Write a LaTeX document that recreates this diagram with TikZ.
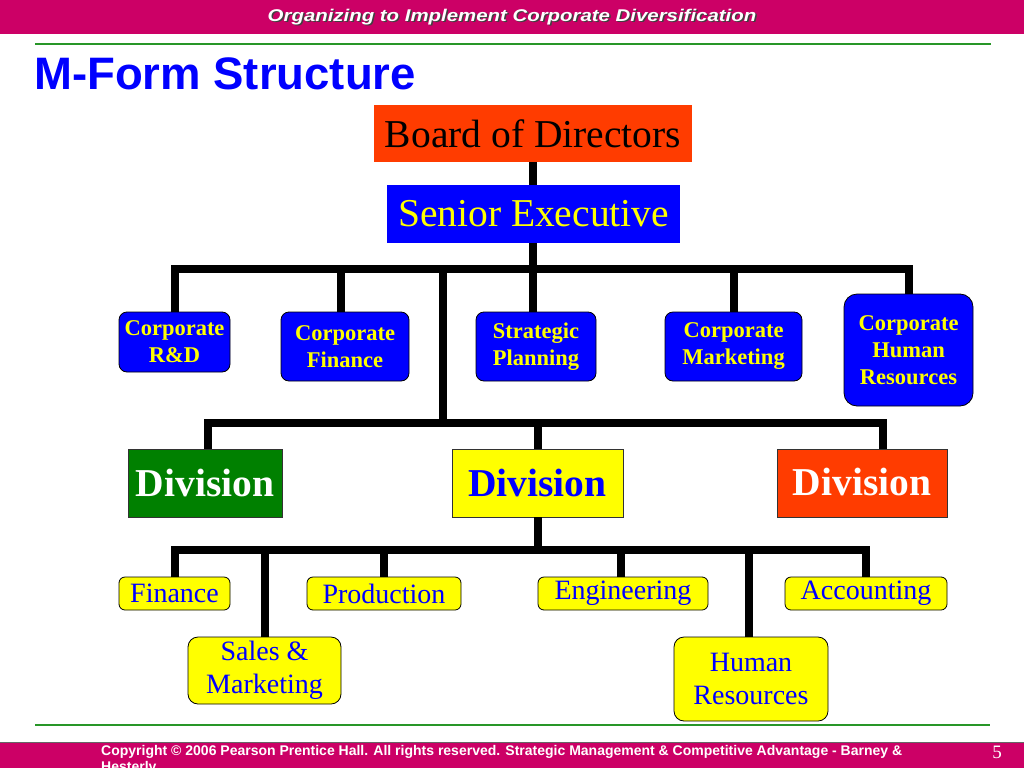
\documentclass[tikz,border=0pt]{standalone}
\usepackage{fontspec}
\setmainfont{Liberation Serif}
\newfontfamily\arial{Liberation Sans}
\definecolor{mag}{RGB}{204,0,102}
\definecolor{lgreen}{RGB}{40,150,40}
\definecolor{tblue}{RGB}{0,0,255}
\definecolor{byellow}{RGB}{255,255,0}
\definecolor{dgreen}{RGB}{0,128,0}
\definecolor{ored}{RGB}{255,60,0}
\begin{document}
\begin{tikzpicture}[x=1pt,y=-1pt,
  conn/.style={line width=8pt, line join=miter, line cap=butt},
  topbox/.style={inner sep=0pt, font=\fontsize{39.5}{44}\selectfont},
  corp/.style={draw=black, line width=0.8pt, fill=tblue, rounded corners=8pt, text=byellow,
    font=\bfseries\fontsize{22.5}{27}\selectfont, align=center, inner sep=0pt},
  divbox/.style={draw=black!80, line width=0.8pt, inner sep=0pt, font=\bfseries\fontsize{39.5}{44}\selectfont},
  unit/.style={draw=black, line width=0.8pt, fill=byellow, rounded corners=6pt, text=tblue,
    font=\fontsize{28}{33.5}\selectfont, align=center, inner sep=0pt},
  hdrfont/.style={font=\arial\bfseries\itshape\fontsize{17}{20}\selectfont}
]
\useasboundingbox (0,0) rectangle (1024,768);
% header
\fill[mag] (0,0) rectangle (1024,34);
\node[text=black!75, hdrfont] (hdrs) at (513.5,18.5) {\scalebox{1.2}[1]{Organizing to Implement Corporate Diversification}};
\node[text=white, hdrfont] (hdr) at (512,17) {\scalebox{1.2}[1]{Organizing to Implement Corporate Diversification}};
\draw[lgreen, line width=2.5pt] (35,44) -- (991,44);
\node[anchor=base west, text=tblue, inner sep=0pt, font=\arial\bfseries\fontsize{45.5}{52}\selectfont] (title) at (34,89) {M-Form Structure};

% top boxes
\node[topbox, fill=ored, text=black, minimum width=318pt, minimum height=57pt] (board) at (533,133.5) {Board of Directors};
\node[topbox, fill=tblue, text=byellow, minimum width=293pt, minimum height=58pt] (senior) at (533.5,214) {Senior Executive};

% corporate staff
\node[corp, minimum width=111pt, minimum height=60pt] (rd) at (174.5,342) {Corporate\\R\&D};
\node[corp, minimum width=128pt, minimum height=69pt] (cfin) at (345,346.5) {Corporate\\Finance};
\node[corp, minimum width=120pt, minimum height=69pt] (strat) at (536,346.5) {Strategic\\Planning};
\node[corp, minimum width=137pt, minimum height=69pt] (cmkt) at (733.5,346.5) {Corporate\\Marketing};
\node[corp, rounded corners=13pt, minimum width=129pt, minimum height=112pt] (chr) at (908.5,350) {Corporate\\Human\\Resources};

% divisions
\node[divbox, fill=dgreen, text=white, minimum width=154pt, minimum height=68pt] (divg) at (205,483) {Division};
\node[divbox, fill=byellow, text=tblue, minimum width=171pt, minimum height=68pt] (divy) at (537.5,483) {\raisebox{-3pt}{Division}};
\node[divbox, fill=ored, text=white, minimum width=170pt, minimum height=68pt] (divr) at (862,483) {\raisebox{3pt}{Division}};

% functional units
\node[unit, minimum width=111pt, minimum height=33pt] (fin) at (174.5,593.5) {Finance};
\node[unit, minimum width=154pt, minimum height=33pt] (prod) at (384,593.5) {Production};
\node[unit, minimum width=170pt, minimum height=33pt] (eng) at (623,593.5) {\raisebox{-2pt}{Engineering}};
\node[unit, minimum width=162pt, minimum height=33pt] (acc) at (866,593.5) {\raisebox{-1pt}{Accounting}};
\node[unit, rounded corners=10pt, minimum width=153pt, minimum height=67pt] (sales) at (264.5,670.5) {Sales \&\\Marketing};
\node[unit, rounded corners=10pt, minimum width=154pt, minimum height=84pt] (hr) at (751,679) {Human\\Resources};

% connectors level 1
\coordinate (j1) at (533,269);
\coordinate (j1d) at (443,269);
\coordinate (j2) at (443,423);
\coordinate (b2l) at (208,423);
\coordinate (b2r) at (883,423);
\coordinate (j3) at (537,550);
\draw[conn] (board.south) -- (board.south |- senior.north);
\draw[conn] (senior.south -| j1) -- (j1);
\draw[conn] (rd.north) |- (j1) -| (chr.north);
\draw[conn] ([xshift=-4pt]cfin.north) -- ([xshift=-4pt]cfin.north |- j1);
\draw[conn] (j1) -- (j1 |- strat.north);
\draw[conn] (cmkt.north) -- (cmkt.north |- j1);
% connectors level 2
\draw[conn] (j1d) -- (j2);
\draw[conn] (divg.north -| b2l) -- (b2l) -- (b2r) -- (divr.north -| b2r);
\draw[conn] (divy.north) -- (divy.north |- j2);
% connectors level 3
\draw[conn] (divy.south) -- (divy.south |- j3);
\draw[conn] (fin.north) |- (j3) -| (acc.north);
\draw[conn] (sales.north) -- (sales.north |- j3);
\draw[conn] (prod.north) -- (prod.north |- j3);
\draw[conn] ([xshift=-2pt]eng.north) -- ([xshift=-2pt]eng.north |- j3);
\draw[conn] ([xshift=-2pt]hr.north) -- ([xshift=-2pt]hr.north |- j3);

% footer
\draw[lgreen, line width=2.5pt] (35,725) -- (990,725);
\fill[mag] (0,742) rectangle (1024,768);
\draw[black!60, line width=1pt] (0,742) -- (1024,742);
\node[anchor=north west, inner sep=0pt, text=white, align=left, font=\arial\bfseries\fontsize{14}{16}\selectfont] (copy) at (101,745) {Copyright © 2006 Pearson Prentice Hall. All rights reserved. Strategic Management \& Competitive Advantage - Barney \&\\Hesterly};
\node[text=white, inner sep=0pt, font=\fontsize{19}{22}\selectfont] (pg) at (997,752) {5};
\end{tikzpicture}
\end{document}
